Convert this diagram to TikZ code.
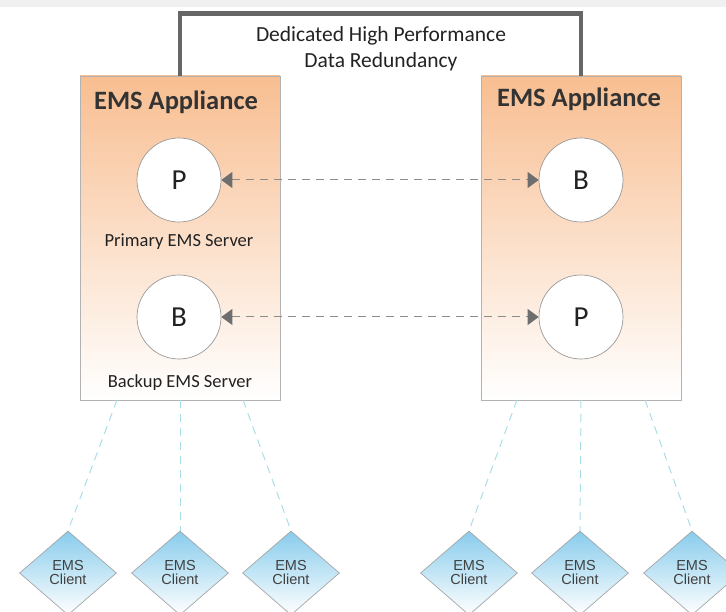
\documentclass[tikz,border=0pt]{standalone}
\usepackage{fontspec}
\setmainfont{Carlito}
\newfontfamily\arialf{Liberation Sans}
\usetikzlibrary{shapes.geometric,arrows.meta}
\definecolor{peach}{RGB}{248,190,145}
\definecolor{skyb}{RGB}{136,204,236}
\definecolor{lnk}{RGB}{170,222,230}
\definecolor{tipgray}{RGB}{110,110,110}
\definecolor{txt}{RGB}{34,34,34}
\tikzset{
  appliance/.style={draw=black!30, line width=0.8pt, top color=peach, bottom color=white, minimum width=200pt, minimum height=324pt, inner sep=0pt},
  srv/.style={circle, draw=black!40, line width=0.7pt, fill=white, minimum size=84pt, inner sep=0pt, font=\fontsize{29}{32}\selectfont, text=txt},
  client/.style={diamond, draw=black!35, line width=0.7pt, top color=skyb, bottom color=white, minimum width=97pt, minimum height=84pt, inner sep=0pt, align=center, font=\arialf\fontsize{14.5}{14}\selectfont, text=black!75},
  repl/.style={dashed, dash pattern=on 8pt off 6pt, draw=black!45, line width=1pt, {Triangle[length=11pt,width=16pt,fill=tipgray,color=tipgray]}-{Triangle[length=11pt,width=16pt,fill=tipgray,color=tipgray]}},
  clink/.style={draw=lnk, line width=1pt, dash pattern=on 8pt off 6pt},
  lbl/.style={font=\fontsize{18.5}{20}\selectfont, text=txt},
  title/.style={font=\bfseries\fontsize{26.5}{28}\selectfont, text=black!80}
}
\begin{document}
\begin{tikzpicture}[x=1pt,y=-1pt]
\useasboundingbox (0,0) rectangle (726,612);
\fill[black!6] (0,0) rectangle (726,7);
% appliances
\node[appliance] (lbox) at (180,238) {};
\node[appliance] (rbox) at (581,238) {};
% top link
\draw[line width=4.5pt, draw=black!60] (lbox.north) -- ++(0,-62) -| (rbox.north);
\node[font=\fontsize{21.5}{26}\selectfont, text=txt, align=center] (redund) at (381,49) {Dedicated High Performance\\Data Redundancy};
\node[title] (lt) at (176,102) {EMS Appliance};
\node[title] (rt) at (579,99) {EMS Appliance};
% servers
\node[srv] (lp) at (179,180) {P};
\node[srv] (lb) at (179,317) {B};
\node[srv] (rb) at (581,180) {B};
\node[srv] (rp) at (581,317) {P};
\node[lbl] (lpl) at (179,242) {Primary EMS Server};
\node[lbl] (lbl2) at (180,383) {Backup EMS Server};
\draw[repl] (lp) -- (rb);
\draw[repl] (lb) -- (rp);
% clients
\node[client] (c1) at (68,573) {EMS\\Client};
\node[client] (c2) at (180,573) {EMS\\Client};
\node[client] (c3) at (291,573) {EMS\\Client};
\node[client] (c4) at (469,573) {EMS\\Client};
\node[client] (c5) at (580,573) {EMS\\Client};
\node[client] (c6) at (692,573) {EMS\\Client};
\coordinate (l1) at (117,400);
\coordinate (l2) at (180,400);
\coordinate (l3) at (243,400);
\coordinate (r1) at (517,400);
\coordinate (r2) at (581,400);
\coordinate (r3) at (645,400);
\draw[clink] (l1) -- (c1.north);
\draw[clink] (l2) -- (c2.north);
\draw[clink] (l3) -- (c3.north);
\draw[clink] (r1) -- (c4.north);
\draw[clink] (r2) -- (c5.north);
\draw[clink] (r3) -- (c6.north);
\end{tikzpicture}
\end{document}
